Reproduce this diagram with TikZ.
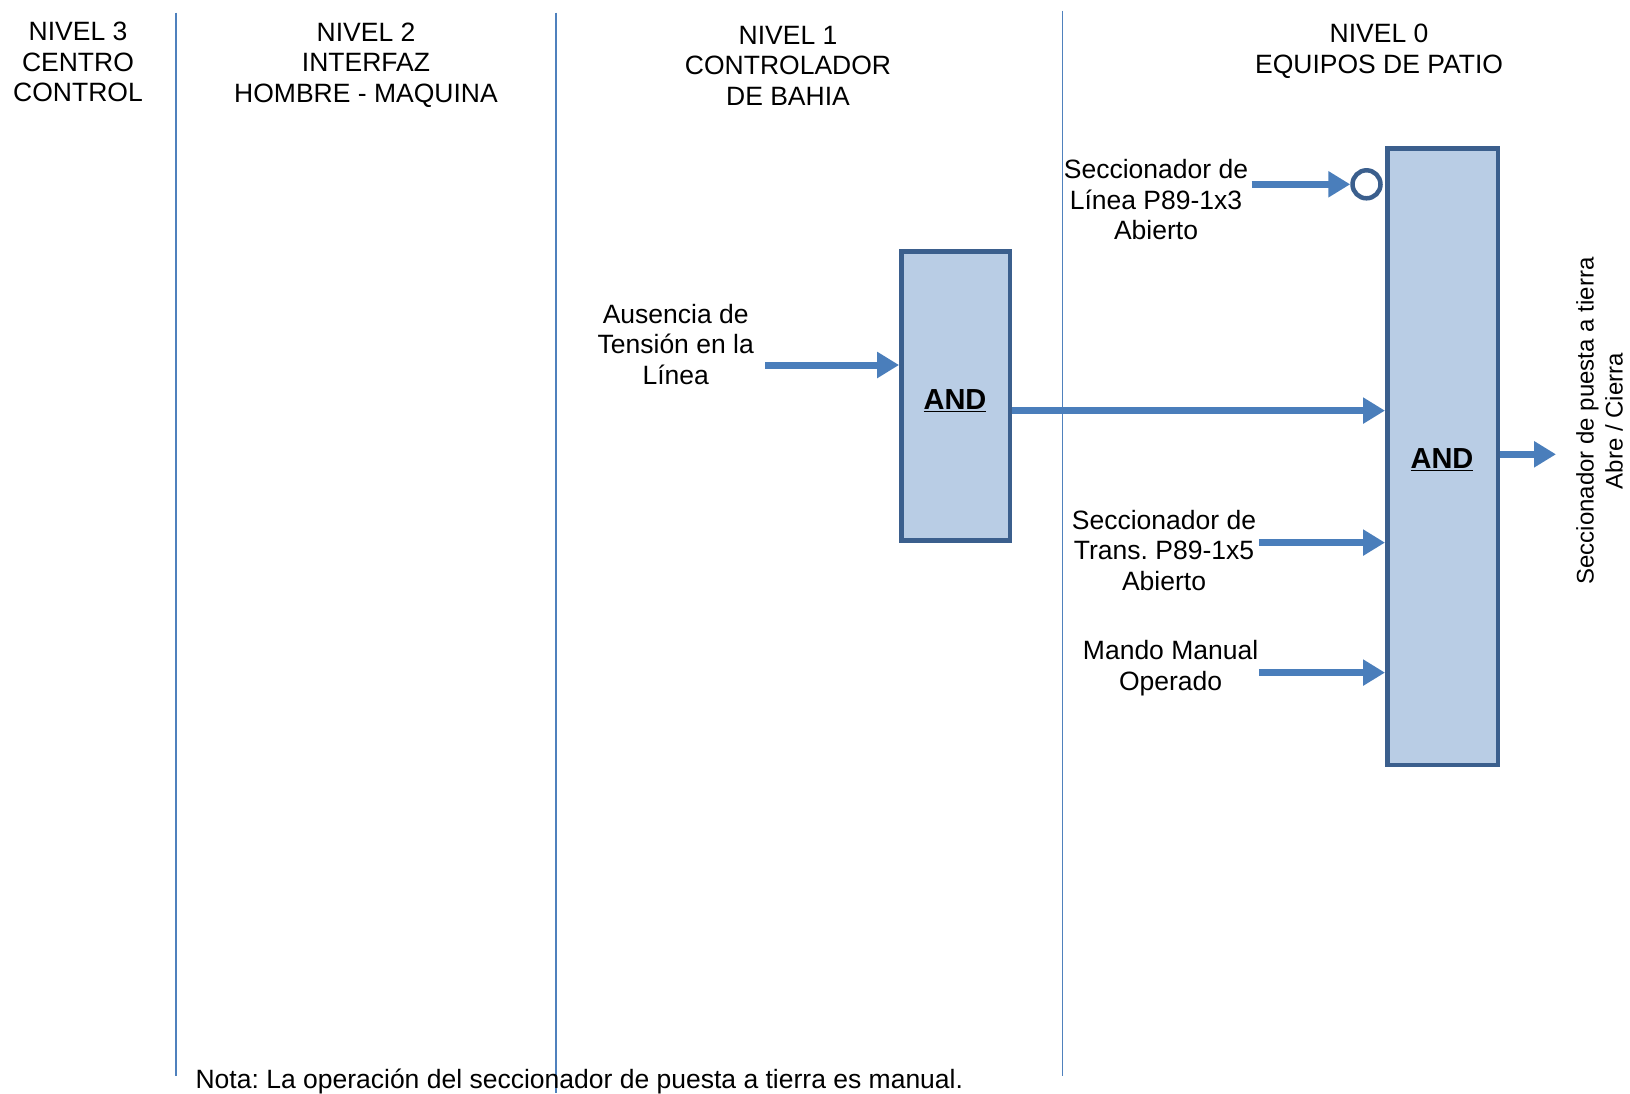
\documentclass[tikz,border=0pt]{standalone}
\usepackage{fontspec}
\setmainfont{Liberation Sans}
\usetikzlibrary{arrows.meta,calc}
\frenchspacing

\definecolor{sigblue}{HTML}{4A7EBB}
\definecolor{gatefill}{HTML}{B9CDE5}
\definecolor{gateedge}{HTML}{3B5F8D}
\definecolor{divblue}{HTML}{4F81BD}

\tikzset{
  lbl/.style={align=center, inner sep=0pt, font=\fontsize{26.5}{30.5}\selectfont},
  hdr/.style={lbl},
  gate/.style={draw=gateedge, fill=gatefill, line width=4.5pt, inner sep=0pt,
    font=\fontsize{29}{32}\selectfont\bfseries},
  sig/.style={draw=sigblue, line width=7pt,
    -{Triangle[length=22pt,width=25pt]}},
  divider/.style={draw=divblue, line width=1.8pt},
  negdot/.style={circle, draw=gateedge, fill=white, line width=4.5pt,
    minimum size=28pt, inner sep=0pt}
}

\begin{document}
\begin{tikzpicture}[x=1pt,y=-1pt]
\useasboundingbox (0,0) rectangle (1630,1093);

% level dividers
\draw[divider] (175.7,12.5) -- (175.7,1076);
\draw[divider] (556.1,12.5) -- (556.1,1093);
\draw[divider] (1062.4,10.5) -- (1062.4,1076);

% level headings
\node[hdr] (h3) at (78,62) {NIVEL 3\\CENTRO\\CONTROL};
\node[hdr] (h2) at (366,65) {NIVEL 2\\INTERFAZ\\HOMBRE - MAQUINA};
\node[hdr] (h1) at (788,65.5) {NIVEL 1\\CONTROLADOR\\DE BAHIA};
\node[hdr] (h0) at (1379,51) {NIVEL 0\\EQUIPOS DE PATIO};

% logic gates
\node[gate, minimum width=108.5pt, minimum height=288.6pt] (and1) at (955.6,396) {};
\node[gate, minimum width=110.5pt, minimum height=616.5pt] (and2) at (1442.5,456.5) {};
\node[font=\fontsize{29}{32}\selectfont\bfseries, inner sep=0pt] (l1) at (955,401) {\underline{AND}};
\node[font=\fontsize{29}{32}\selectfont\bfseries, inner sep=0pt] (l2) at (1442,460) {\underline{AND}};

% input labels
\node[lbl] (tAus) at (675.7,344.5) {Ausencia de\\Tensión en la\\Línea};
\node[lbl] (tLin) at (1156,200) {Seccionador de\\Línea P89-1x3\\Abierto};
\node[lbl] (tTra) at (1164,550.5) {Seccionador de\\Trans. P89-1x5\\Abierto};
\node[lbl] (tMan) at (1170.6,668) {Mando Manual\\Operado};

% output label
\node[lbl, font=\fontsize{24}{29}\selectfont, rotate=90] (tOut) at (1599.5,421)
  {Seccionador de puesta a tierra\\Abre / Cierra};

% inverted input
\node[negdot] (neg) at (1366.5,184.3) {};

% signal start points
\coordinate (sAus) at (765,365);
\coordinate (sLin) at (1251.5,184.3);
\coordinate (sTra) at (1258.8,542.6);
\coordinate (sMan) at (1258.8,672.6);
\coordinate (eOut) at (1556,454.3);

% signals
\draw[sig] (sAus) -- (sAus -| and1.west);
\draw[sig] (sLin) -- (neg.west);
\draw[sig] ($(and1.east)+(0,14.6)$) coordinate (mid) -- (mid -| and2.west);
\draw[sig] (sTra) -- (sTra -| and2.west);
\draw[sig] (sMan) -- (sMan -| and2.west);
\draw[sig] (eOut -| and2.east) -- (eOut);

% note
\node[lbl, anchor=base west] (nota) at (195.4,1088)
  {Nota: La operación del seccionador de puesta a tierra es manual.};
\end{tikzpicture}
\end{document}
